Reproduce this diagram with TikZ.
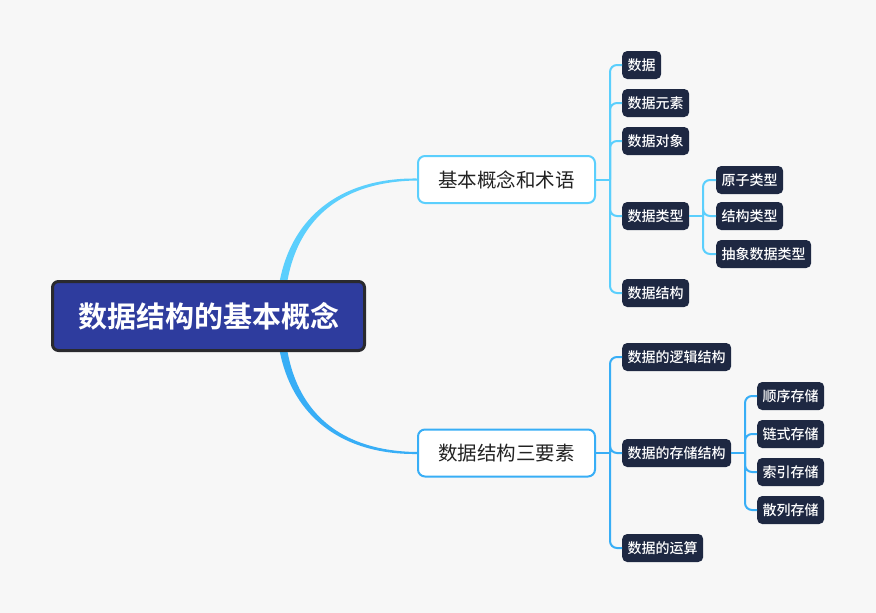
\documentclass[tikz,border=0pt]{standalone}
\usepackage{fontspec}
\setmainfont{Noto Sans CJK SC}
\newfontfamily\cjkbold{Noto Sans CJK SC Bold}
\newfontfamily\cjkmed{Noto Sans CJK SC Medium}
\usepackage{xcolor}
\usetikzlibrary{calc,backgrounds}

\definecolor{pagebg}{HTML}{F7F7F7}
\definecolor{rootblue}{HTML}{2E3C9E}
\definecolor{rootedge}{HTML}{2A2A2E}
\definecolor{leafnavy}{HTML}{1E2842}
\definecolor{topictext}{HTML}{222222}
\definecolor{skyline}{HTML}{5BCFFD}
\definecolor{blueline}{HTML}{38AEF6}

\begin{document}
\begin{tikzpicture}[
    x=1pt, y=-1pt,
    root/.style={
        rectangle,
        rounded corners=6pt,
        draw=rootedge,
        line width=3pt,
        fill=rootblue,
        text=white,
        font=\cjkbold\fontsize{29}{34}\selectfont,
        minimum width=312pt,
        minimum height=69pt
    },
    topic/.style={
        rectangle,
        rounded corners=7pt,
        line width=2pt,
        fill=white,
        text=topictext,
        font=\fontsize{19.5}{23}\selectfont,
        minimum width=177pt,
        minimum height=47pt
    },
    leaf/.style={
        rectangle,
        rounded corners=5pt,
        fill=leafnavy,
        text=white,
        font=\cjkmed\fontsize{14}{17}\selectfont,
        minimum height=28pt,
        inner xsep=5.5pt,
        inner ysep=0pt,
        anchor=west
    },
    link/.style={draw, line width=2pt, rounded corners=7pt}
]
\useasboundingbox (0,0) rectangle (876,613);

% Root
\node[root] (root) at (208.5, 316) {数据结构的基本概念};

% Main topics
\node[topic, draw=skyline] (terms) at (506.5, 179.5) {基本概念和术语};
\node[topic, draw=blueline] (three) at (506.5, 453) {数据结构三要素};

% Basic terms
\node[leaf] (data) at (622, 65) {数据};
\node[leaf] (elem) at (622, 103) {数据元素};
\node[leaf] (obj) at (622, 141) {数据对象};
\node[leaf] (dtype) at (622, 216) {数据类型};
\node[leaf] (dstruct) at (622, 293) {数据结构};

% Data types
\node[leaf] (atom) at (716, 180) {原子类型};
\node[leaf] (record) at (716, 216) {结构类型};
\node[leaf] (adt) at (716, 254) {抽象数据类型};

% Three elements
\node[leaf] (logic) at (622, 357) {数据的逻辑结构};
\node[leaf] (store) at (622, 453) {数据的存储结构};
\node[leaf] (ops) at (622, 548) {数据的运算};

% Storage kinds
\node[leaf] (seq) at (757, 396) {顺序存储};
\node[leaf] (chain) at (757, 434) {链式存储};
\node[leaf] (index) at (757, 472) {索引存储};
\node[leaf] (hash) at (757, 510) {散列存储};

% Junctions
\coordinate (jterms) at (610, 179.5);
\coordinate (jtype) at (703, 216);
\coordinate (jthree) at (610, 453);
\coordinate (jstore) at (745, 453);

% Tree lines
\draw[link, skyline] (terms.east) -- (jterms);
\foreach \n in {data, elem, obj, dtype, dstruct}
    \draw[link, skyline] (jterms) |- (\n.west);
\draw[link, skyline] (dtype.east) -- (jtype);
\foreach \n in {atom, record, adt}
    \draw[link, skyline] (jtype) |- (\n.west);

\draw[link, blueline] (three.east) -- (jthree);
\foreach \n in {logic, store, ops}
    \draw[link, blueline] (jthree) |- (\n.west);
\draw[link, blueline] (store.east) -- (jstore);
\foreach \n in {seq, chain, index, hash}
    \draw[link, blueline] (jstore) |- (\n.west);

% Background and curved branches
\begin{scope}[on background layer]
\fill[pagebg] (0,0) rectangle (876,613);
\coordinate (rfoot) at ([xshift=-86pt]root.east);
\fill[skyline] ($(rfoot)+(-3.5,0)$) .. controls ($(rfoot)+(-3.5,-86)$) and ($(terms.west)+(-88,-2)$) .. ($(terms.west)+(0,-1)$)
    -- ($(terms.west)+(0,1)$) .. controls ($(terms.west)+(-86,2)$) and ($(rfoot)+(4.5,-86)$) .. ($(rfoot)+(4.5,0)$) -- cycle;
\fill[blueline] ($(rfoot)+(-3.5,0)$) .. controls ($(rfoot)+(-3.5,86)$) and ($(three.west)+(-88,2)$) .. ($(three.west)+(0,1)$)
    -- ($(three.west)+(0,-1)$) .. controls ($(three.west)+(-86,-2)$) and ($(rfoot)+(4.5,86)$) .. ($(rfoot)+(4.5,0)$) -- cycle;
\end{scope}

\end{tikzpicture}
\end{document}
